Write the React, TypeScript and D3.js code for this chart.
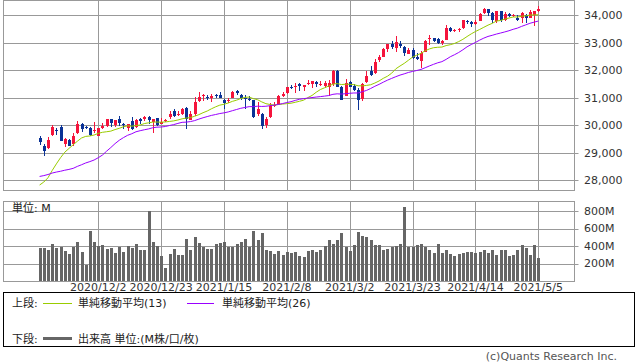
import React from "react";
import * as d3 from "d3";

// ---- data ----
const priorCloses = [28303, 28426, 28587, 28838, 28680, 28515, 28494, 28606, 28195, 28309, 28211, 28364, 28336, 27685, 27464, 26520, 26660, 26502, 26925, 27481, 27848, 28390, 28323, 29158, 29421];

const opens = [
  29530, 29250, 29180, 29650, 29830, 29950, 29310, 29460, 29300, 29720,
  30040, 29940, 29900, 29790, 29620, 29900, 29960, 30230, 30000, 30230,
  30050, 29900, 30150, 29920, 30230, 30220, 30300, 30100, 30250, 30050,
  30140, 30280, 30500, 30360, 30420, 30630, 30200, 30390, 30870, 31080,
  31020, 30980, 31100, 31080, 30900, 30870, 31000, 31230, 31100, 31000,
  30950, 30900, 30400, 30400, 30000, 30300, 30690, 30750, 31070, 31170,
  31390, 31420, 31480, 31390, 31480, 31500, 31580, 31470, 31440, 31400,
  31480, 31970, 31400, 31060, 31560, 31410, 31270, 30950, 31550, 31950,
  31880, 32350, 32470, 32780, 32960, 32800, 32930, 32850, 32600, 32720,
  32480, 32340, 32650, 33120, 33160, 33120, 33000, 33100, 33540, 33420,
  33470, 33520, 33780, 33730, 33690, 33780, 34060, 34200, 34080, 33780,
  34130, 33830, 34050, 33960, 33900, 33900, 34000, 33900, 34000, 34150,
];
const highs = [
  29600, 29300, 29560, 29990, 29900, 29990, 29540, 29500, 29700, 30160,
  30080, 29980, 29920, 30100, 29900, 30080, 30220, 30240, 30190, 30320,
  30080, 30060, 30310, 30220, 30260, 30330, 30330, 30240, 30260, 30250,
  30230, 30520, 30600, 30520, 30640, 30670, 30500, 31020, 31190, 31140,
  31100, 31150, 31150, 31220, 30950, 31000, 31240, 31270, 31130, 31100,
  31050, 30920, 30830, 30450, 30300, 30800, 30850, 31080, 31200, 31390,
  31450, 31530, 31530, 31460, 31640, 31620, 31600, 31600, 31620, 31650,
  31990, 32010, 31440, 31660, 31620, 31500, 31360, 31540, 31950, 32150,
  32390, 32560, 32790, 32960, 33050, 33220, 33050, 32880, 32820, 32800,
  32620, 32700, 33100, 33260, 33180, 33170, 33100, 33620, 33580, 33500,
  33520, 33810, 33830, 33790, 33820, 34060, 34260, 34230, 34100, 34140,
  34160, 34100, 34070, 34020, 34010, 34100, 34020, 34190, 34150, 34330,
];
const lows = [
  29280, 28900, 29150, 29620, 29640, 29430, 29200, 29240, 29260, 29680,
  29760, 29860, 29600, 29720, 29590, 29850, 29930, 29950, 29950, 29970,
  29850, 29800, 29840, 29890, 30050, 30150, 30060, 29720, 29970, 30040,
  30110, 30240, 30300, 30350, 30380, 29880, 30180, 30350, 30860, 30870,
  30900, 30840, 30990, 30970, 30600, 30800, 30990, 31100, 30900, 30600,
  30870, 30250, 30340, 29860, 29900, 30260, 30650, 30740, 31020, 31130,
  31320, 31170, 31250, 31240, 31460, 31360, 31370, 31420, 31350, 31070,
  31430, 31380, 30900, 31050, 31370, 31250, 30550, 30880, 31540, 31790,
  31860, 32280, 32470, 32650, 32780, 32640, 32810, 32500, 32580, 32400,
  32350, 32070, 32640, 32920, 33010, 32950, 32900, 33080, 33370, 33380,
  33380, 33500, 33660, 33560, 33650, 33780, 34050, 33950, 33720, 33710,
  33740, 33800, 33930, 33920, 33800, 33700, 33720, 33880, 33600, 34100,
];
const closes = [
  29397, 29080, 29479, 29950, 29783, 29438, 29483, 29263, 29591, 30046,
  29872, 29910, 29638, 29823, 29883, 29969, 30218, 30069, 30173, 30068,
  29999, 30046, 29861, 30199, 30154, 30303, 30179, 30216, 30015, 30129,
  30199, 30403, 30335, 30409, 30606, 30223, 30392, 30829, 31041, 31097,
  31008, 31068, 31060, 30991, 30814, 30930, 31188, 31176, 30997, 30960,
  30937, 30303, 30603, 29983, 30212, 30688, 30724, 31056, 31148, 31386,
  31376, 31438, 31431, 31458, 31523, 31613, 31494, 31494, 31522, 31537,
  31962, 31402, 30932, 31535, 31391, 31270, 30924, 31496, 31802, 31833,
  32297, 32485, 32779, 32953, 32826, 33015, 32862, 32628, 32732, 32423,
  32420, 32619, 33072, 33171, 33067, 32982, 33054, 33527, 33430, 33446,
  33504, 33801, 33746, 33677, 33731, 34036, 34201, 34078, 33821, 34137,
  33815, 34043, 33981, 33985, 33820, 34060, 33875, 34113, 34133, 34230,
];
const volumes = [
  377, 377, 354, 423, 377, 389, 343, 309, 389, 446,
  331, 183, 571, 446, 400, 411, 366, 377, 320, 389,
  331, 400, 377, 423, 354, 354, 800, 446, 400, 286,
  149, 309, 366, 297, 297, 480, 354, 503, 434, 389,
  366, 366, 423, 434, 446, 389, 389, 423, 446, 480,
  389, 571, 469, 549, 354, 343, 309, 343, 297, 331,
  320, 331, 286, 274, 343, 354, 331, 354, 400, 469,
  423, 469, 549, 389, 343, 411, 560, 514, 503, 469,
  411, 411, 354, 366, 389, 400, 423, 846, 389, 389,
  411, 423, 389, 354, 320, 423, 320, 354, 309, 286,
  309, 320, 331, 331, 320, 331, 354, 320, 354, 297,
  354, 354, 286, 297, 354, 411, 377, 297, 411, 263,
];
const tickIndex = [14, 29, 44, 59, 74, 89, 104, 119];
const tickLabels = ["2020/12/2", "2020/12/23", "2021/1/15", "2021/2/8", "2021/3/2", "2021/3/23", "2021/4/14", "2021/5/5"];
const priceTicks = [28000, 29000, 30000, 31000, 32000, 33000, 34000];
const volumeTicks = [200, 400, 600, 800];
const maPeriods = [13, 26];

const RED = "#f5143c";
const BLUE = "#0a3296";
const GRID = "#999999";
const MA_COLORS = ["#99cc00", "#9900ff"];
const FONT = "'DejaVu Sans', 'Noto Sans CJK JP', sans-serif";

export default function App() {
  const n = closes.length;
  const x = d3.scaleLinear().domain([0, n - 1]).range([39.6, 538.3]);
  const y = d3.scaleLinear().domain([28000, 34000]).range([180.3, 15]);
  const yv = d3.scaleLinear().domain([0, 800]).range([281, 211]);

  const allCloses = [...priorCloses, ...closes];
  const mas = maPeriods.map((p) =>
    closes.map((_, i) => {
      const end = i + priorCloses.length + 1;
      return d3.mean(allCloses.slice(end - p, end)) as number;
    })
  );
  const line = d3
    .line<number>()
    .x((_, i) => x(i))
    .y((d) => y(d));

  const left = 3.5;
  const right = 574.5;
  const px = (v: number) => Math.round(v) + 0.5;

  return (
    <svg
      width={638}
      height={362}
      style={{ position: "absolute", left: 0, top: 0, display: "block", background: "#fff" }}
      fontFamily={FONT}
    >
      {/* price panel grid */}
      {priceTicks.map((t) => (
        <g key={"pt" + t}>
          <line x1={left} x2={right + 4} y1={px(y(t))} y2={px(y(t))} stroke={GRID} />
          <text x={584} y={y(t)} dy="0.36em" fontSize={11} fill="#333">
            {d3.format(",")(t)}
          </text>
        </g>
      ))}
      {tickIndex.map((ti) => (
        <g key={"vt" + ti}>
          <line x1={px(x(ti))} x2={px(x(ti))} y1={0.5} y2={190.5} stroke={GRID} />
          <line x1={px(x(ti))} x2={px(x(ti))} y1={201.5} y2={281.5} stroke={GRID} />
        </g>
      ))}
      <rect x={left} y={0.5} width={right - left} height={190} fill="none" stroke={GRID} />

      {/* candles */}
      {closes.map((c, i) => {
        const o = opens[i];
        const up = c >= o;
        const col = up ? RED : BLUE;
        const cx = Math.round(x(i));
        const top = Math.round(y(Math.max(o, c)));
        const bot = Math.round(y(Math.min(o, c)));
        return (
          <g key={"c" + i} shapeRendering="crispEdges">
            <line x1={cx + 0.5} x2={cx + 0.5} y1={y(highs[i])} y2={y(lows[i])} stroke={col} />
            <rect x={cx - 1} y={top} width={3} height={Math.max(1, bot - top)} fill={col} />
          </g>
        );
      })}

      {/* moving averages */}
      {mas.map((m, k) => (
        <path key={"ma" + k} d={line(m) || ""} fill="none" stroke={MA_COLORS[k]} strokeWidth={1} />
      ))}

      {/* volume panel */}
      {volumeTicks.map((t) => (
        <g key={"vv" + t}>
          <line x1={left} x2={right + 4} y1={px(yv(t))} y2={px(yv(t))} stroke={GRID} />
          <text x={584} y={yv(t)} dy="0.36em" fontSize={11} fill="#333">
            {t}M
          </text>
        </g>
      ))}
      {volumes.map((v, i) => (
        <rect
          key={"v" + i}
          x={Math.round(x(i)) - 1}
          y={yv(v)}
          width={3}
          height={yv(0) - yv(v)}
          fill="#666666"
          shapeRendering="crispEdges"
        />
      ))}
      <rect x={left} y={201.5} width={right - left} height={80} fill="none" stroke={GRID} />
      <text x={12} y={212} fontSize={11} fill="#222">
        単位: M
      </text>

      {/* date labels */}
      {tickIndex.map((ti, k) => (
        <text key={"dl" + ti} x={x(ti)} y={291} textAnchor="middle" fontSize={11} fill="#333">
          {tickLabels[k]}
        </text>
      ))}

      {/* legend */}
      <rect x={3.5} y={292.5} width={631} height={54} fill="none" stroke="#000" />
      <text x={12} y={307} fontSize={11} fill="#222">上段:</text>
      <line x1={43} x2={72} y1={303.5} y2={303.5} stroke={MA_COLORS[0]} />
      <text x={78} y={307} fontSize={11} fill="#222">単純移動平均(13)</text>
      <line x1={187} x2={214} y1={303.5} y2={303.5} stroke={MA_COLORS[1]} />
      <text x={222} y={307} fontSize={11} fill="#222">単純移動平均(26)</text>
      <text x={12} y={343} fontSize={11} fill="#222">下段:</text>
      <line x1={43} x2={72} y1={338.5} y2={338.5} stroke="#666" strokeWidth={3} />
      <text x={78} y={343} fontSize={11} fill="#222">出来高 単位:(M株/口/枚)</text>

      <text x={617} y={360} textAnchor="end" fontSize={11} fill="#555">
        (c)Quants Research Inc.
      </text>
    </svg>
  );
}
